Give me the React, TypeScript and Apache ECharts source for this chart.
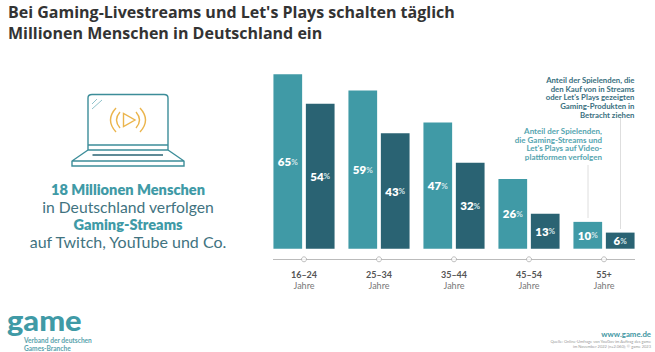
import React, { useEffect, useRef } from "react";
import * as echarts from "echarts";

const categories = ["16–24", "25–34", "35–44", "45–54", "55+"];
const unitLabel = "Jahre";
const watchStreams = [65, 59, 47, 26, 10];
const considerPurchase = [54, 43, 32, 13, 6];
const axisLevel = -3.95;
const axisMarks = categories.map(() => axisLevel);

const titleText = "Bei Gaming-Livestreams und Let's Plays schalten täglich\nMillionen Menschen in Deutschland ein";
const noteDark = ["Anteil der Spielenden, die", "den Kauf von in Streams", "oder Let's Plays gezeigten", "Gaming-Produkten in", "Betracht ziehen"];
const noteTeal = ["Anteil der Spielenden,", "die Gaming-Streams und", "Let's Plays auf Video-", "plattformen verfolgen"];

const TEAL = "#409aa6";
const DARK = "#2a6373";
const FONT = "Lato, 'Noto Sans', sans-serif";

function reg(name: string, d: string) {
  echarts.graphic.registerShape(name, (echarts.graphic as any).extendPath(d, {}));
}
reg("laptop", "M88 145V98Q88 94.5 92 94.5H164Q168 94.5 168 98V145Z M88 150H168V145H88Z M88 150L72 161V166H184V161L168 150 M72 161H184");
reg("laptopLine", "M92.5 155H163");
reg("glassLine", "M92 109L102 100 M92 104L97 99");
reg("play", "M123.5 113.5V126.5L135 120Z M116 108Q105 120 116 132 M120 112Q113 120 120 128 M140 108Q151 120 140 132 M136 112Q143 120 136 128");

function txt(text: string, x: number, y: number, fill: string, size: number, weight: any = 400, align: any = "center", family = FONT) {
  return { type: "text", x, y, silent: true, style: { text, fill, font: `${weight} ${size}px ${family}`, align, verticalAlign: "middle" } };
}
function seg(x1: number, y1: number, x2: number, y2: number, stroke: string, lineWidth = 1) {
  return { type: "line", silent: true, shape: { x1, y1, x2, y2 }, style: { stroke, lineWidth } };
}

const barLabel = {
  show: true,
  position: "inside",
  formatter: (p: any) => `{n|${p.value}}{p|%}`,
  rich: {
    n: { fontFamily: FONT, fontWeight: 800, fontSize: 11.5, color: "#fff" },
    p: { fontFamily: FONT, fontWeight: 700, fontSize: 8, color: "#d3e6ea" },
  },
};

export default function App() {
  const ref = useRef<HTMLDivElement>(null);
  useEffect(() => {
    document.body.style.margin = "0";
    const chart = echarts.init(ref.current!, undefined, { renderer: "svg" });
    chart.setOption({
      animation: false,
      backgroundColor: "#fff",
      title: {
        text: titleText,
        left: 8,
        top: 1,
        padding: 0,
        textStyle: { fontFamily: "'Open Sans', sans-serif", fontWeight: 700, fontSize: 16, lineHeight: 21, color: "#333" },
      },
      grid: { left: 266.5, width: 375, top: 74.3, height: 185 },
      xAxis: {
        type: "category",
        data: categories,
        axisLine: { show: false },
        axisTick: { show: false },
        axisLabel: {
          margin: 9.5,
          interval: 0,
          formatter: (v: string) => `{a|${v}}\n{b|${unitLabel}}`,
          rich: {
            a: { fontFamily: FONT, fontWeight: 700, fontSize: 9, color: "#555", lineHeight: 11, align: "center" },
            b: { fontFamily: FONT, fontSize: 9, color: "#777", lineHeight: 11, align: "center" },
          },
        },
      },
      yAxis: { type: "value", min: axisLevel, max: 65, show: false, splitLine: { show: false } },
      series: [
        { name: "Streams", type: "bar", data: watchStreams, barWidth: 28.7, barGap: "13%", itemStyle: { color: TEAL }, label: barLabel, z: 3 },
        { name: "Kauf", type: "bar", data: considerPurchase, barWidth: 28.7, barGap: "13%", itemStyle: { color: DARK }, label: barLabel, z: 3 },
        {
          name: "Achse",
          type: "scatter",
          data: axisMarks,
          symbol: "circle",
          symbolSize: 5,
          itemStyle: { color: "#fff", borderColor: "#9a9a9a", borderWidth: 0.8 },
          silent: true,
          z: 5,
        },
      ],
      graphic: [
        seg(273, 259.5, 635, 259.5, "#aaaaaa", 0.8),
        seg(588, 165, 588, 218, "#dedede", 1),
        seg(620.5, 118, 620.5, 229, "#dedede", 1),
        ...noteDark.map((t, i) => txt(t, 634.5, 80 + i * 8.7, "#3a7080", 7.8, 700, "right")),
        ...noteTeal.map((t, i) => txt(t, 602, 131 + i * 8.7, "#55a5b0", 8, 700, "right")),
        { type: "laptop", silent: true, style: { fill: "none", stroke: "#3c8d99", lineWidth: 1.4 } },
        { type: "laptopLine", silent: true, style: { fill: "none", stroke: DARK, lineWidth: 1.4 } },
        { type: "glassLine", silent: true, style: { fill: "none", stroke: "#8fc3cb", lineWidth: 1 } },
        { type: "play", silent: true, style: { fill: "none", stroke: "#ebb54d", lineWidth: 1.4 } },
        txt("18 Millionen Menschen", 128, 189, TEAL, 14.6, 800),
        txt("in Deutschland verfolgen", 128, 206.5, "#41737f", 15.7, 400),
        txt("Gaming-Streams", 128, 224, TEAL, 14.6, 800),
        txt("auf Twitch, YouTube und Co.", 128, 241, "#41737f", 16, 400),
        { ...txt("game", 7, 320, TEAL, 28, 900, "left"), scaleX: 1.1 },
        txt("Verband der deutschen", 24, 340, "#5aa3ad", 6.6, 700, "left"),
        txt("Games-Branche", 24, 347.5, "#5aa3ad", 6.6, 700, "left"),
        txt("www.game.de", 651, 334, "#3f97a3", 7.8, 700, "right"),
        txt("Quelle: Online-Umfrage von YouGov im Auftrag des game", 651, 341.5, "#999", 4, 400, "right"),
        txt("im November 2022 (n=2.060); © game 2023", 651, 346.5, "#999", 4, 400, "right"),
      ],
    });
    return () => chart.dispose();
  }, []);
  return <div ref={ref} style={{ width: 655, height: 352 }} />;
}
